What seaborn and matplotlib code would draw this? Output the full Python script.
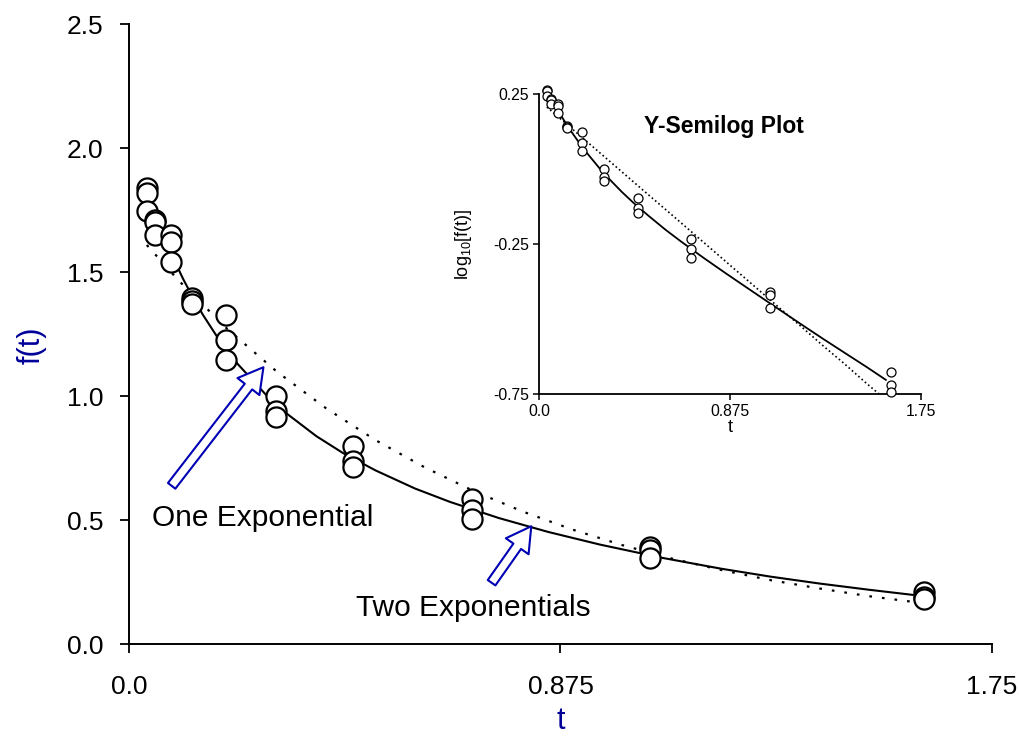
import numpy as np
import pandas as pd
import matplotlib
matplotlib.use('Agg')
import matplotlib.pyplot as plt
import seaborn as sns
from matplotlib.patches import FancyArrowPatch

# observed data: time points, three replicates each
t_obs = [0.036, 0.036, 0.036,
         0.053, 0.053, 0.053,
         0.085, 0.085, 0.085,
         0.128, 0.128, 0.128,
         0.197, 0.197, 0.197,
         0.298, 0.298, 0.298,
         0.455, 0.455, 0.455,
         0.695, 0.695, 0.695,
         1.057, 1.057, 1.057,
         1.612, 1.612, 1.612]
f_obs = [1.84, 1.82, 1.745,
         1.71, 1.70, 1.65,
         1.65, 1.62, 1.54,
         1.395, 1.385, 1.37,
         1.325, 1.225, 1.145,
         1.00, 0.94, 0.915,
         0.80, 0.74, 0.715,
         0.585, 0.54, 0.505,
         0.39, 0.38, 0.345,
         0.21, 0.19, 0.18]

# two exponential fit (solid)
t_two = [0.036, 0.06, 0.085, 0.11, 0.128, 0.15, 0.178, 0.22, 0.28, 0.32,
         0.38, 0.434, 0.50, 0.58, 0.651, 0.75, 0.85, 0.955, 1.08, 1.2,
         1.3, 1.4, 1.5, 1.59]
f_two = [1.821, 1.693, 1.575, 1.471, 1.403, 1.327, 1.241, 1.130, 1.000, 0.929,
         0.838, 0.770, 0.700, 0.627, 0.573, 0.508, 0.452, 0.401, 0.348, 0.304,
         0.272, 0.244, 0.219, 0.198]

# one exponential fit (dotted)
t_one = [0.036, 0.1, 0.2, 0.3, 0.4, 0.5, 0.6, 0.7, 0.8, 0.9,
         1.0, 1.1, 1.2, 1.3, 1.4, 1.5, 1.59]
f_one = [1.609, 1.467, 1.269, 1.098, 0.950, 0.822, 0.712, 0.616, 0.533, 0.461,
         0.399, 0.345, 0.299, 0.258, 0.224, 0.193, 0.170]

x_ticks = [0.0, 0.875, 1.75]
x_ticklabels = ['0.0', '0.875', '1.75']
y_ticks = [0.0, 0.5, 1.0, 1.5, 2.0, 2.5]
inset_y_ticks = [0.25, -0.25, -0.75]
inset_y_ticklabels = ['0.25', '-0.25', '-0.75']

obs = pd.DataFrame({'t': t_obs, 'f': f_obs})
obs['logf'] = np.log10(obs['f'])
two = pd.DataFrame({'t': t_two, 'f': f_two})
two['logf'] = np.log10(two['f'])
one = pd.DataFrame({'t': t_one, 'f': f_one})
one['logf'] = np.log10(one['f'])

sns.set_style('ticks')
plt.rcParams['font.family'] = ['Liberation Sans', 'DejaVu Sans']
plt.rcParams['text.color'] = 'black'
plt.rcParams['axes.labelcolor'] = 'black'
plt.rcParams['xtick.color'] = 'black'
plt.rcParams['ytick.color'] = 'black'

label_blue = '#000099'
arrow_blue = '#0000B4'

fig = plt.figure(figsize=(10.2, 7.4), dpi=100)
ax = fig.add_axes([0.1265, 0.1297, 0.846, 0.8378])

sns.lineplot(data=one, x='t', y='f', ax=ax, color='black', lw=1.6,
             linestyle=(0, (1.2, 4.5)), sort=False)
sns.lineplot(data=two, x='t', y='f', ax=ax, color='black', lw=1.5, sort=False)
sns.scatterplot(data=obs, x='t', y='f', ax=ax, s=210, facecolor='white',
                edgecolor='black', linewidth=1.6, zorder=5, clip_on=False)

ax.set_xlim(0, 1.75)
ax.set_ylim(0, 2.5)
ax.set_xticks(x_ticks)
ax.set_xticklabels(x_ticklabels)
ax.set_yticks(y_ticks)
ax.set_yticklabels(['%.1f' % v for v in y_ticks])
ax.tick_params(direction='out', length=6.5, width=1.3, labelsize=19)
ax.tick_params(axis='x', pad=16)
ax.tick_params(axis='y', pad=12)
for side in ['top', 'right']:
    ax.spines[side].set_visible(False)
for side in ['left', 'bottom']:
    ax.spines[side].set_linewidth(1.4)
    ax.spines[side].set_color('black')
ax.set_xlabel('t', fontsize=22, color=label_blue)
ax.set_ylabel('f(t)', fontsize=22, color=label_blue)
ax.xaxis.set_label_coords(0.5, -0.1)
ax.yaxis.set_label_coords(-0.095, 0.482)

ax.text(0.047, 0.51, 'One Exponential', fontsize=21.5, ha='left', va='center')
ax.text(0.46, 0.145, 'Two Exponentials', fontsize=21.5, ha='left', va='center')

# hollow block arrows
for tail, head in [((0.083, 0.629), (0.276, 1.125)), ((0.732, 0.238), (0.819, 0.484))]:
    arr = FancyArrowPatch(tail, head, arrowstyle='simple,head_length=1.1,head_width=1.25,tail_width=0.42',
                          mutation_scale=16, facecolor='white', edgecolor=arrow_blue,
                          linewidth=1.5, zorder=6)
    ax.add_patch(arr)

# inset semilog plot
ins = fig.add_axes([0.5284, 0.4676, 0.3745, 0.4054])
sns.lineplot(data=one, x='t', y='logf', ax=ins, color='black', lw=1.2,
             linestyle=(0, (1, 1.6)), sort=False)
sns.lineplot(data=two, x='t', y='logf', ax=ins, color='black', lw=1.3, sort=False)
sns.scatterplot(data=obs, x='t', y='logf', ax=ins, s=42, facecolor='white',
                edgecolor='black', linewidth=0.9, zorder=5, clip_on=False)
ins.set_xlim(0, 1.75)
ins.set_ylim(-0.75, 0.25)
ins.set_xticks(x_ticks)
ins.set_xticklabels(x_ticklabels)
ins.set_yticks(inset_y_ticks)
ins.set_yticklabels(inset_y_ticklabels)
ins.tick_params(direction='out', length=4, width=1.1, labelsize=11.3, pad=3)
for side in ['top', 'right']:
    ins.spines[side].set_visible(False)
for side in ['left', 'bottom']:
    ins.spines[side].set_linewidth(1.3)
    ins.spines[side].set_color('black')
ins.set_xlabel('t', fontsize=13)
ins.set_ylabel(r'log$_{\mathregular{10}}$[f(t)]', fontsize=13)
ins.xaxis.set_label_coords(0.5, -0.083)
ins.yaxis.set_label_coords(-0.17, 0.5)
ins.text(0.484, 0.89, 'Y-Semilog Plot', transform=ins.transAxes, fontsize=16.5,
         fontweight='bold', ha='center', va='center')

fig.savefig('out.png', dpi=100)
